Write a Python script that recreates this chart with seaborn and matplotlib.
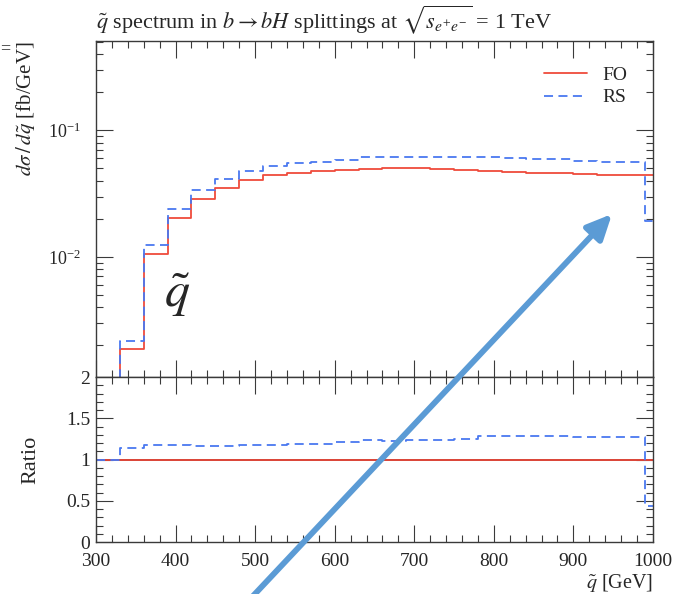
import numpy as np
import pandas as pd
import matplotlib
matplotlib.use("Agg")
import matplotlib.pyplot as plt
import seaborn as sns
from matplotlib.patches import FancyArrowPatch, ArrowStyle
from matplotlib.ticker import MultipleLocator, LogLocator, NullFormatter

# ---------------- data ----------------
bin_edges = [300, 330, 360, 390, 420, 450, 480, 510, 540, 570, 600, 630, 660,
             690, 720, 750, 780, 810, 840, 870, 900, 930, 960, 990, 1020]
# cross sections per bin (first entry = empty bin 300-330)
fo_values = [1e-6, 0.00188, 0.01057, 0.0204, 0.0288, 0.0351, 0.0406, 0.0444,
             0.0461, 0.0475, 0.0484, 0.0499, 0.0506, 0.0500, 0.0496, 0.0490,
             0.0479, 0.0470, 0.0464, 0.0458, 0.0453, 0.0447, 0.0442, 0.0440]
rs_values = [1e-6, 0.00214, 0.01247, 0.02397, 0.03364, 0.04100, 0.04758, 0.05204,
             0.05486, 0.05653, 0.05881, 0.06168, 0.06193, 0.06200, 0.06150, 0.06135,
             0.06131, 0.06016, 0.05976, 0.05899, 0.05744, 0.05668, 0.05622, 0.01936]
xticks = [300, 400, 500, 600, 700, 800, 900, 1000]
ratio_ticks = [0, 0.5, 1, 1.5, 2]
ratio_labels = ["0", "0.5", "1", "1.5", "2"]

# ---------------- style ----------------
sns.set_style("ticks")
plt.rcParams["font.family"] = ["Liberation Serif", "DejaVu Serif"]
plt.rcParams["mathtext.fontset"] = "stix"

red = "#EF4B3C"
blue = "#4A78F0"
spine_col = "#3a3a3a"

# step representation: value repeated at last edge
x_step = bin_edges
fo_step = fo_values + [fo_values[-1]]
rs_step = rs_values + [rs_values[-1]]
ratio_fo = [1.0] + [f / f for f in fo_values[1:]]
ratio_rs = [1.0] + [r / f for r, f in zip(rs_values[1:], fo_values[1:])]
ratio_fo_step = ratio_fo + [ratio_fo[-1]]
ratio_rs_step = ratio_rs + [ratio_rs[-1]]

df = pd.DataFrame({"x": x_step, "FO": fo_step, "RS": rs_step,
                   "rFO": ratio_fo_step, "rRS": ratio_rs_step})

fig = plt.figure(figsize=(6.74, 5.94), dpi=100)
ax1 = fig.add_axes([0.1424, 0.3653, 0.8264, 0.5657])
ax2 = fig.add_axes([0.1424, 0.0875, 0.8264, 0.2778], sharex=ax1)

ax1.set_yscale("log")
sns.lineplot(data=df, x="x", y="FO", ax=ax1, color=red, lw=1.3,
             drawstyle="steps-post", label="FO", estimator=None, sort=False)
sns.lineplot(data=df, x="x", y="RS", ax=ax1, color=blue, lw=1.3,
             linestyle=(0, (5, 3)), drawstyle="steps-post", label="RS",
             estimator=None, sort=False)

ax2.axhline(1.0, color="black", lw=1.2, zorder=1)
sns.lineplot(data=df, x="x", y="rFO", ax=ax2, color=red, lw=1.3,
             drawstyle="steps-post", estimator=None, sort=False, legend=False)
sns.lineplot(data=df, x="x", y="rRS", ax=ax2, color=blue, lw=1.3,
             linestyle=(0, (5, 3)), drawstyle="steps-post", estimator=None,
             sort=False, legend=False)

ax1.set_xlim(300, 1000)
ax1.set_ylim(1.12e-3, 0.51)
ax2.set_ylim(0, 2)

ax1.yaxis.set_major_locator(LogLocator(base=10))
ax1.yaxis.set_minor_locator(LogLocator(base=10, subs=np.arange(2, 10)))
ax1.yaxis.set_minor_formatter(NullFormatter())
ax1.set_xticks(xticks)
ax1.xaxis.set_minor_locator(MultipleLocator(20))
ax2.set_yticks(ratio_ticks)
ax2.set_yticklabels(ratio_labels)
ax2.yaxis.set_minor_locator(MultipleLocator(0.1))
ax2.set_xticks(xticks)
ax2.set_xticklabels([str(t) for t in xticks])
plt.setp(ax1.get_xticklabels(), visible=False)

for ax in (ax1, ax2):
    ax.tick_params(which="both", direction="in", top=True, right=True,
                   color=spine_col, labelsize=14, width=0.8)
    ax.tick_params(which="major", length=12)
    ax.tick_params(which="minor", length=5)
    for s in ax.spines.values():
        s.set_color(spine_col)
        s.set_linewidth(1.0)
ax1.tick_params(axis="y", which="major", pad=11, labelsize=13)
ax2.tick_params(axis="y", which="major", pad=4)
ax2.tick_params(axis="x", which="major", pad=8)

ax1.set_xlabel("")
ax1.set_ylabel(r"$d\sigma\,/\,d\tilde{q}$ [fb/GeV]", fontsize=15, loc="top")
ax1.yaxis.set_label_coords(-0.106, 1.0)
ax2.set_ylabel("Ratio", fontsize=16)
ax2.yaxis.set_label_coords(-0.1, 0.5)
ax2.set_xlabel(r"$\tilde{q}$ [GeV]", fontsize=14.5, loc="right", labelpad=1)

ax1.set_title(r"$\tilde{q}$ spectrum in $b \to bH$ splittings at $\sqrt{s_{e^{+}e^{-}}}$ = 1 TeV",
              fontsize=16, loc="left", pad=9)

leg = ax1.legend(loc="upper right", frameon=False, fontsize=14,
                 handlelength=2.2, borderaxespad=0.9, labelspacing=0.25)

# big annotation
ax1.text(0.145, 0.245, r"$\tilde{q}$", transform=ax1.transAxes, fontsize=36,
         ha="center", va="center")

# arrow overlay
arrow = FancyArrowPatch(posA=(253 / 674, 1 - 596 / 594), posB=(612 / 674, 1 - 214 / 594),
                        transform=fig.transFigure,
                        arrowstyle=ArrowStyle("-|>", head_length=0.75, head_width=0.35),
                        mutation_scale=20, color="#5B9BD5", lw=4.2,
                        shrinkA=0, shrinkB=0, zorder=10)
fig.add_artist(arrow)
fig.text(0.0, 1 - 49 / 594, "=", fontsize=13, va="center", ha="left")

fig.savefig("out.png", dpi=100)
